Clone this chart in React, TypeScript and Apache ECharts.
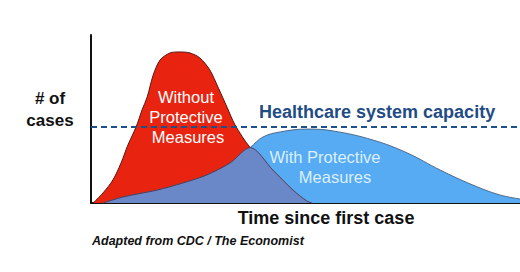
import React, { useEffect, useRef } from "react";
import * as echarts from "echarts";

// x: time (0..100), y: cases (0..100)
const withoutX = [0.5, 2.8, 5.1, 7.0, 8.6, 10.5, 11.9, 13.1, 14.5, 16.1, 18.4, 20.7, 23.1, 25.4, 27.7, 29.6, 31.7, 33.6, 37.1, 42.4, 47.1, 50.3, 51.5];
const withoutY = [0, 6.0, 13.7, 23.8, 34.5, 45.2, 55.4, 63.1, 76.2, 85.1, 89.3, 89.9, 89.3, 86.3, 79.2, 69.0, 57.1, 46.4, 33.0, 19.6, 7.7, 1.2, 0];

const withX = [2.8, 7.5, 15.4, 21.4, 27.0, 32.4, 37.1, 40.1, 44.1, 50.3, 56.4, 65.7, 73.7, 81.4, 89.0, 95.3, 100];
const withY = [0, 3.6, 7.7, 11.9, 16.7, 23.8, 33.0, 39.3, 42.3, 44.0, 42.9, 37.5, 29.8, 19.6, 10.7, 4.8, 2.4];

const capacity = 45.5;
const crossingX = 37.1;

const FONT = "'Liberation Sans', Arial, Helvetica, sans-serif";

export default function App() {
  const ref = useRef<HTMLDivElement>(null);
  useEffect(() => {
    if (!ref.current) return;
    const chart = echarts.init(ref.current, null, { renderer: "svg" });
    const red = withoutX.map((x, i) => [x, withoutY[i]]);
    const blue = withX.map((x, i) => [x, withY[i]]);
    const overlap = [
      ...blue.filter((p) => p[0] < crossingX),
      ...red.filter((p) => p[0] >= crossingX),
    ];
    const txt = (text: string, x: number, y: number, font: string, fill: string, align = "center") => ({
      type: "text",
      z: 10,
      x,
      y,
      style: { text, font, fill, align, verticalAlign: "middle" },
    });
    chart.setOption({
      animation: false,
      grid: { left: 91, right: 0, top: 35, bottom: 69 },
      xAxis: {
        type: "value",
        min: 0,
        max: 100,
        axisLine: { show: true, onZero: false, lineStyle: { color: "#111", width: 2 } },
        axisTick: { show: false },
        axisLabel: { show: false },
        splitLine: { show: false },
      },
      yAxis: {
        type: "value",
        min: 0,
        max: 100,
        axisLine: { show: true, lineStyle: { color: "#111", width: 2 } },
        axisTick: { show: false },
        axisLabel: { show: false },
        splitLine: { show: false },
      },
      series: [
        {
          type: "line",
          data: red,
          smooth: 0.3,
          symbol: "none",
          lineStyle: { color: "#5a1810", width: 1 },
          areaStyle: { color: "#e8230f", opacity: 1 },
          z: 2,
        },
        {
          type: "line",
          data: blue,
          smooth: 0.4,
          symbol: "none",
          lineStyle: { color: "#4f6a8a", width: 1 },
          areaStyle: { color: "#56abf3", opacity: 1 },
          z: 3,
          markLine: {
            silent: true,
            symbol: "none",
            label: { show: false },
            lineStyle: { type: [6, 4], color: "#1f4f88", width: 2 },
            data: [{ yAxis: capacity }],
          },
        },
        {
          type: "line",
          data: overlap,
          smooth: 0.3,
          symbol: "none",
          lineStyle: { color: "#5a3a50", width: 1 },
          areaStyle: { color: "#6a87c8", opacity: 1 },
          z: 4,
        },
      ],
      graphic: [
        txt("# of", 50, 98, `bold 17px ${FONT}`, "#111"),
        txt("cases", 50, 120, `bold 17px ${FONT}`, "#111"),
        txt("Without", 186, 97, `16.5px ${FONT}`, "#ffffff"),
        txt("Protective", 186, 117, `16.5px ${FONT}`, "#ffffff"),
        txt("Measures", 188, 137, `16.5px ${FONT}`, "#ffffff"),
        txt("Healthcare system capacity", 259, 112, `bold 18px ${FONT}`, "#1f4c85", "left"),
        txt("With Protective", 325, 157, `16.5px ${FONT}`, "#dcefff"),
        txt("Measures", 335, 177, `16.5px ${FONT}`, "#dcefff"),
        txt("Time since first case", 326, 218, `bold 18px ${FONT}`, "#111"),
        txt("Adapted from CDC / The Economist", 92, 241, `italic bold 12.5px ${FONT}`, "#111", "left"),
      ],
    });
    return () => chart.dispose();
  }, []);
  return <div ref={ref} style={{ width: 520, height: 272, position: "absolute", left: 0, top: 0 }} />;
}
